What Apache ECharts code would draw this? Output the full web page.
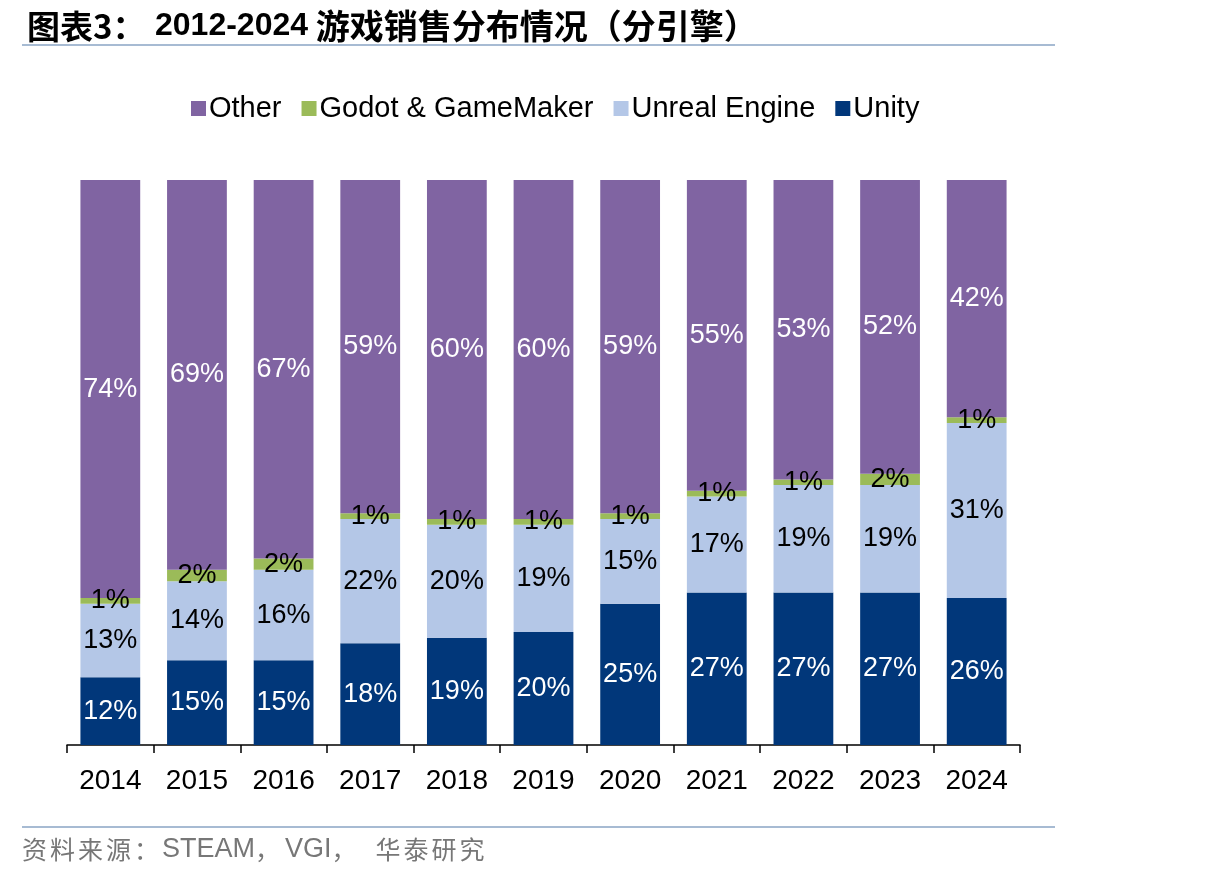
<!DOCTYPE html>
<html>
<head>
<meta charset="utf-8">
<script src="https://cdn.jsdelivr.net/npm/echarts@6/dist/echarts.min.js"></script>
<style>
  html, body { margin: 0; padding: 0; background: #fff; }
  #chart { width: 1206px; height: 882px; }
</style>
</head>
<body>
<div id="chart"></div>
<script>
// 年份
var years = ['2014', '2015', '2016', '2017', '2018', '2019', '2020', '2021', '2022', '2023', '2024'];

// 各引擎销售占比 (%)
var unity = [12, 15, 15, 18, 19, 20, 25, 27, 27, 27, 26];
var unreal = [13, 14, 16, 22, 20, 19, 15, 17, 19, 19, 31];
var godotGM = [1, 2, 2, 1, 1, 1, 1, 1, 1, 2, 1];
var other = [74, 69, 67, 59, 60, 60, 59, 55, 53, 52, 42];

var chart = echarts.init(document.getElementById('chart'));

var labelFont = 'Liberation Sans, Arial, sans-serif';
var cjkFont = '"Noto Sans CJK SC", sans-serif';

function makeSeries(name, data, color, labelColor) {
    return {
        name: name,
        type: 'bar',
        stack: 'total',
        barCategoryGap: '31%',
        data: data,
        itemStyle: { color: color },
        label: {
            show: true,
            position: 'inside',
            formatter: '{c}%',
            color: labelColor,
            fontSize: 27,
            fontFamily: labelFont
        },
        labelLayout: { hideOverlap: false }
    };
}

// 资料来源：逐字排开，模仿原图的字距
var sourceText = '{c|资}{c|料}{c|来}{c|源}{c|：}{l|STEAM}{p|，}{l|VGI}{q|，}{c|华}{c|泰}{c|研}{c|究}';

var option = {
    animation: false,
    backgroundColor: '#fff',
    title: {
        text: '{a|图表3：}{b|2012-2024}{c| 游戏销售分布情况（分引擎）}',
        left: 22,
        top: 2,
        textStyle: {
            rich: {
                a: { fontSize: 33, fontWeight: 'bold', color: '#000', fontFamily: cjkFont, width: 128, lineHeight: 38 },
                b: { fontSize: 32, fontWeight: 'bold', color: '#000', fontFamily: labelFont, lineHeight: 38 },
                c: { fontSize: 34, fontWeight: 'bold', color: '#000', fontFamily: cjkFont, lineHeight: 38 }
            }
        }
    },
    legend: {
        data: ['Other', 'Godot & GameMaker', 'Unreal Engine', 'Unity'],
        left: 186,
        top: 89,
        itemWidth: 15,
        itemHeight: 15,
        itemGap: 20,
        icon: 'rect',
        textStyle: {
            fontSize: 29,
            color: '#000',
            fontFamily: labelFont,
            padding: [0, 0, 0, -2]
        }
    },
    grid: {
        left: 67,
        right: 186,
        top: 180,
        bottom: 137
    },
    xAxis: {
        type: 'category',
        data: years,
        axisLine: { lineStyle: { color: '#000', width: 1.5 } },
        axisTick: { show: true, length: 8, lineStyle: { color: '#000', width: 1.5 } },
        axisLabel: {
            color: '#000',
            fontSize: 28,
            fontFamily: labelFont,
            margin: 22
        }
    },
    yAxis: {
        type: 'value',
        min: 0,
        max: 100,
        show: false,
        splitLine: { show: false }
    },
    series: [
        makeSeries('Unity', unity, '#01377A', '#fff'),
        makeSeries('Unreal Engine', unreal, '#B4C7E7', '#000'),
        makeSeries('Godot & GameMaker', godotGM, '#9BBB59', '#000'),
        makeSeries('Other', other, '#8064A2', '#fff')
    ],
    graphic: [
        {
            type: 'line',
            shape: { x1: 22, y1: 45, x2: 1055, y2: 45 },
            style: { stroke: '#A7BBD3', lineWidth: 2 }
        },
        {
            type: 'line',
            shape: { x1: 22, y1: 827, x2: 1055, y2: 827 },
            style: { stroke: '#A7BBD3', lineWidth: 2 }
        },
        {
            type: 'text',
            left: 22,
            top: 836,
            style: {
                text: sourceText,
                fill: '#777',
                rich: {
                    c: { fontSize: 25, width: 28, lineHeight: 32, verticalAlign: 'middle', fill: '#777', fontFamily: cjkFont },
                    l: { fontSize: 27, lineHeight: 32, verticalAlign: 'middle', fill: '#777', fontFamily: labelFont },
                    p: { fontSize: 25, width: 30, lineHeight: 32, verticalAlign: 'middle', fill: '#777', fontFamily: cjkFont },
                    q: { fontSize: 25, width: 44, lineHeight: 32, verticalAlign: 'middle', fill: '#777', fontFamily: cjkFont }
                }
            }
        }
    ]
};

chart.setOption(option);
</script>
</body>
</html>
